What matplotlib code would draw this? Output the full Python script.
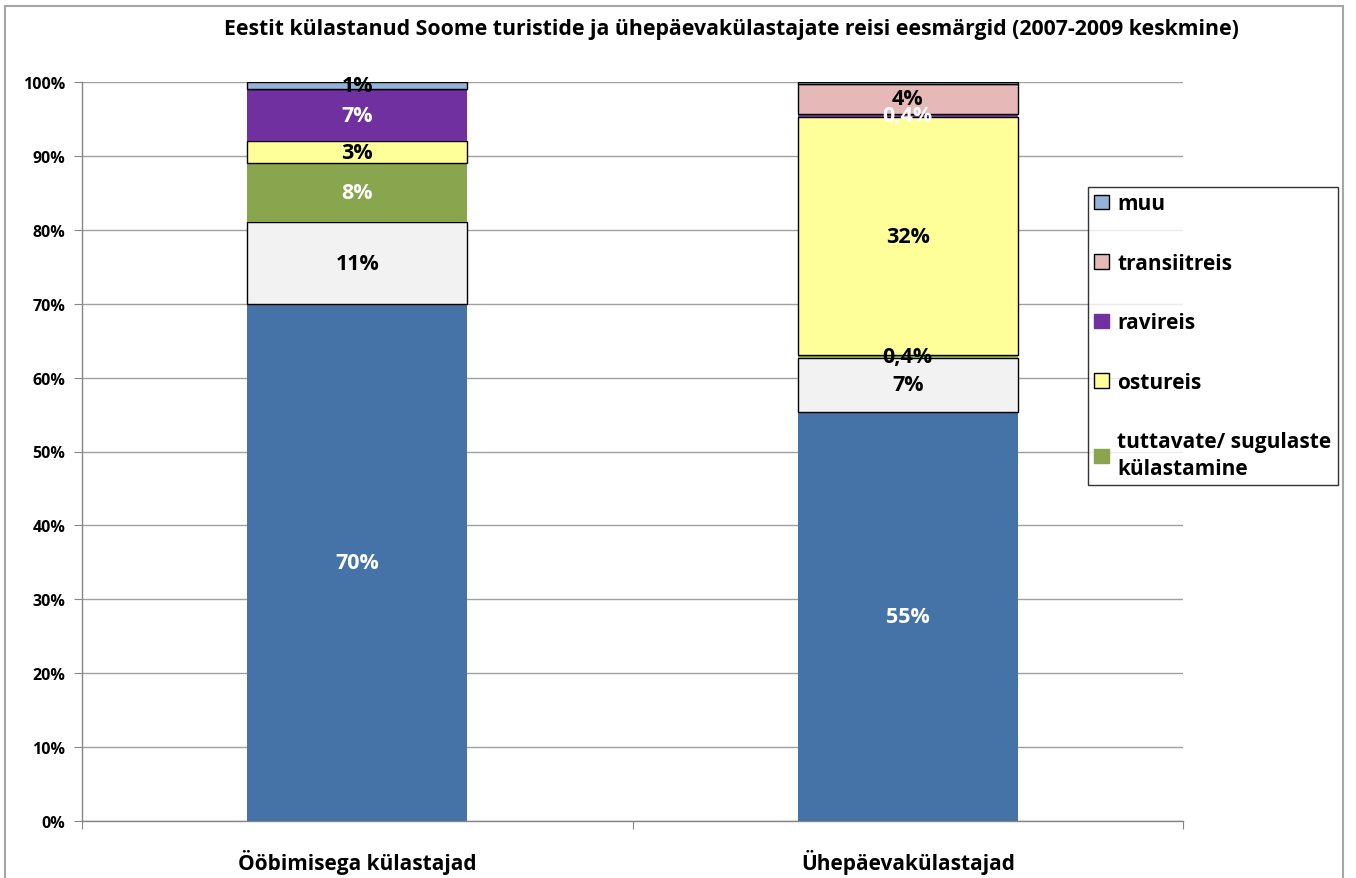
import matplotlib
matplotlib.use("Agg")
import matplotlib.pyplot as plt
from matplotlib.patches import Rectangle, Patch
import numpy as np

plt.rcParams['font.family'] = ['Open Sans', 'DejaVu Sans']
plt.rcParams['font.weight'] = 'bold'

title = "Eestit külastanud Soome turistide ja ühepäevakülastajate reisi eesmärgid (2007-2009 keskmine)"
categories = ["Ööbimisega külastajad", "Ühepäevakülastajad"]

series_names = ["puhkusereis", "ärireis", "tuttavate/ sugulaste\nkülastamine",
                "ostureis", "ravireis", "transiitreis", "muu"]
puhkusereis = [70.0, 55.4]
arireis = [11.0, 7.2]
tuttavad = [8.0, 0.4]
ostureis = [3.0, 32.3]
ravireis = [7.0, 0.4]
transiitreis = [0.0, 4.0]
muu = [1.0, 0.3]
values = [puhkusereis, arireis, tuttavad, ostureis, ravireis, transiitreis, muu]

colors = ["#4572A7", "#F2F2F2", "#89A54E", "#FFFF99", "#7030A0", "#E6B9B8", "#95B3D7"]
edges = [None, "black", None, "black", None, "black", "black"]
label_colors = [["white", "white"], ["black", "black"], ["white", "black"],
                ["black", "black"], ["white", "white"], ["black", "black"], ["black", "black"]]

W, H = 1356, 879
fig = plt.figure(figsize=(W / 100, H / 100), dpi=100)
ax = fig.add_axes([82 / W, 1 - 822 / H, (1183 - 82) / W, (822 - 83) / H])

x = np.arange(len(categories))
bottom = np.zeros(len(categories))
for i, (vals, c, e) in enumerate(zip(values, colors, edges)):
    vals = np.array(vals)
    ax.bar(x, vals, 0.4, bottom=bottom, color=c,
           edgecolor=e if e else c, linewidth=1.0 if e else 0, zorder=3)
    for j, v in enumerate(vals):
        if v >= 0.35:
            if v < 1:
                txt = f"{v:.1f}".replace(".", ",") + "%"
            else:
                txt = f"{int(round(v))}%"
            ax.text(x[j], bottom[j] + v / 2, txt, ha="center", va="center",
                    fontsize=15.5, fontweight="bold", color=label_colors[i][j], zorder=5)
    bottom += vals

ax.set_xlim(-0.5, 1.5)
ax.set_ylim(0, 100)
ax.set_yticks(np.arange(0, 101, 10))
ax.set_yticklabels([f"{v}%" for v in range(0, 101, 10)], fontsize=11.5, fontweight="bold")
ax.set_xticks([-0.5, 0.5, 1.5])
ax.set_xticklabels([])
ax.set_xticks(x, minor=True)
ax.set_xticklabels(categories, minor=True, fontsize=15, fontweight="bold")
ax.tick_params(axis="x", which="minor", length=0, pad=20)
ax.tick_params(axis="x", which="major", length=6, color="#868686", direction="out")
ax.tick_params(axis="y", length=6, color="#868686", direction="out", pad=6)
ax.grid(axis="y", color="#A0A0A0", linewidth=1.0, zorder=0)
for s in ["top", "right"]:
    ax.spines[s].set_visible(False)
for s in ["left", "bottom"]:
    ax.spines[s].set_color("#868686")
    ax.spines[s].set_linewidth(1.0)

fig.text(0.5 * (222 + 1240) / W, 1 - 30 / H, title, ha="center", va="center",
         fontsize=15.3, fontweight="bold")

handles = []
for idx in [6, 5, 4, 3, 2]:
    handles.append(Patch(facecolor=colors[idx], edgecolor=edges[idx] if edges[idx] else colors[idx],
                         linewidth=1.0, label=series_names[idx]))
leg = fig.legend(handles=handles, loc="upper left", bbox_to_anchor=(1088 / W, 1 - 188 / H),
                 frameon=True, fancybox=False, edgecolor="black", fontsize=15,
                 handlelength=0.7, handleheight=0.7, handletextpad=0.4,
                 labelspacing=1.85, borderpad=0.3, borderaxespad=0)
leg.get_frame().set_linewidth(1.0)
for t in leg.get_texts():
    t.set_fontweight("bold")
    t.set_linespacing(1.35)

fig.add_artist(Rectangle((5 / W, -0.01), (1343 - 5) / W, 1 - 7 / H + 0.01,
                         transform=fig.transFigure, fill=False,
                         edgecolor="#A6A6A6", linewidth=1.5, zorder=10))

fig.savefig("out.png", dpi=100)
